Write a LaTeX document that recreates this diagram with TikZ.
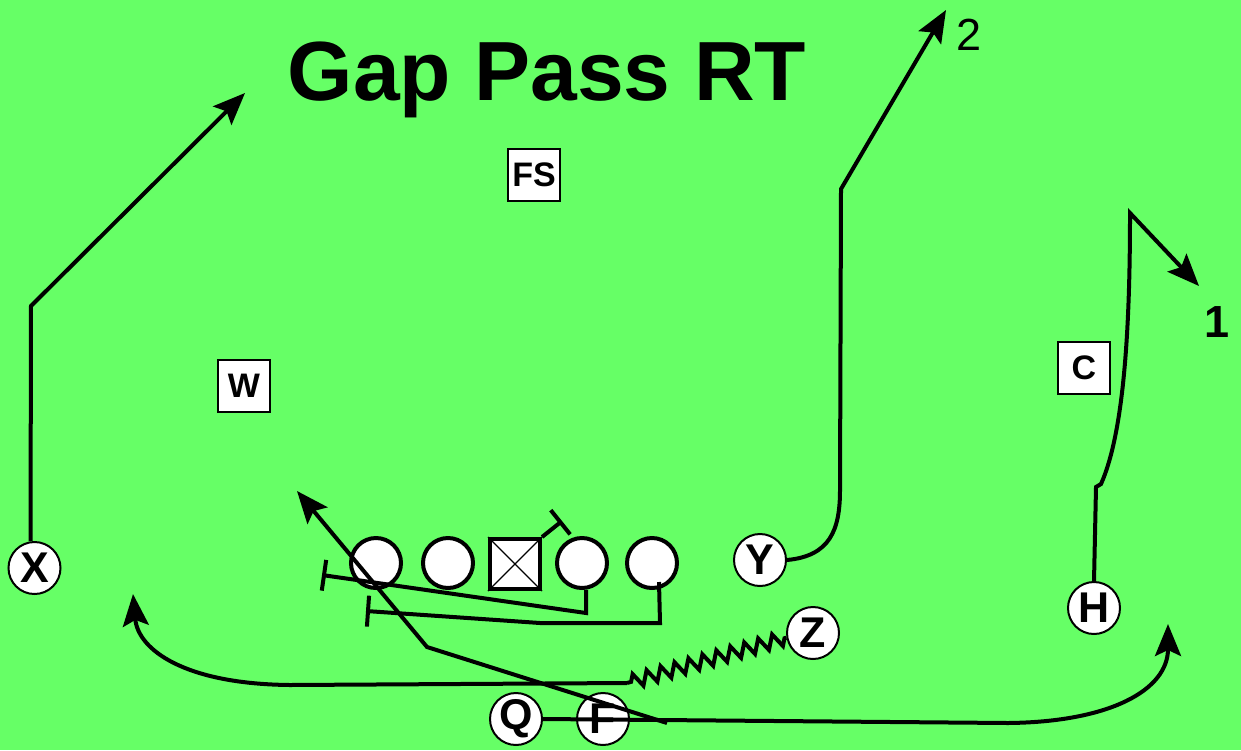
\documentclass[tikz,border=0pt]{standalone}
\usepackage{fontspec}
\setmainfont{Liberation Sans}
\usetikzlibrary{arrows.meta,decorations.pathmorphing}
\definecolor{field}{RGB}{102,255,102}
\begin{document}
\begin{tikzpicture}[x=1pt,y=-1pt,
 player/.style={circle,draw,fill=white,line width=2pt,minimum size=52pt,inner sep=0pt,font=\fontsize{43}{43}\selectfont\bfseries},
 lineman/.style={circle,draw,fill=white,line width=4pt,minimum size=50pt,inner sep=0pt},
 center/.style={rectangle,draw,fill=white,line width=4pt,minimum size=50pt,inner sep=0pt},
 defender/.style={rectangle,draw,fill=white,line width=2pt,minimum size=52pt,inner sep=0pt,font=\fontsize{34}{34}\selectfont\bfseries},
 route/.style={line width=4pt,line join=miter},
 tip/.style={-{Stealth[length=32pt,width=26pt,inset=6pt]}},
 block/.style={line width=4pt,-{Bar[width=31pt]}},
]
\path[fill=field] (0,0) rectangle (1241,750);
\useasboundingbox (0,0) rectangle (1241,750);

% title and labels
\node[anchor=base,font=\fontsize{84}{84}\selectfont\bfseries] (title) at (547,100) {Gap Pass RT};
\node[font=\fontsize{45}{45}\selectfont] (two) at (969,35) {2};
\node[font=\fontsize{45}{45}\selectfont\bfseries] (one) at (1217,322) {1};

% defenders
\node[defender] (FS) at (534,175) {FS};
\node[defender] (W) at (244,386) {W};
\node[defender] (C) at (1084,368) {C};

% offense
\node[lineman] (l1) at (376,563) {};
\node[lineman] (l2) at (448,563) {};
\node[center] (l3) at (515,564) {};
\draw[line width=1.2pt] (l3.north west) -- (l3.south east) (l3.north east) -- (l3.south west);
\node[lineman] (l4) at (582,563) {};
\node[lineman] (l5) at (652,563) {};

\node[player] (X) at (34.5,568) {X};
\node[player] (Y) at (760,560) {Y};
\node[player] (Z) at (813,633) {Z};
\node[player] (H) at (1094,608) {H};
\node[player] (Q) at (516,719) {Q};
\node[player] (F) at (603,719) {F};

% route coordinates
\coordinate (xc) at (31,306);
\coordinate (xe) at (245,93);
\coordinate (yc1) at (840,490);
\coordinate (yc2) at (841,189);
\coordinate (ye) at (946,10);
\coordinate (hc1) at (1096,487);
\coordinate (hc2) at (1101,484);
\coordinate (hc3) at (1130,213);
\coordinate (he) at (1199,286);
\coordinate (zz) at (627,683);
\coordinate (zc) at (290,685);
\coordinate (ze) at (133,594);
\coordinate (fs) at (667,723);
\coordinate (fc) at (427,647);
\coordinate (fe) at (297,491);
\coordinate (qc) at (1008,723);
\coordinate (qe) at (1168,624);
\coordinate (b4a) at (586,613);
\coordinate (b4e) at (322,575);
\coordinate (b5a) at (660,623);
\coordinate (b5b) at (540,623);
\coordinate (b5e) at (366,611);
\coordinate (b3e) at (562,521);

% routes
\draw[route,tip] ([xshift=-4pt]X.north) -- (xc) -- (xe);
\draw[route,tip] (Y.east) .. controls (830,556) and (840,530) .. (yc1) -- (yc2) -- (ye);
\draw[route,tip] (H.north) -- (hc1) -- (hc2) .. controls (1125,430) and (1130,320) .. (hc3) -- (he);
\draw[route,decorate,decoration={zigzag,segment length=14.5pt,amplitude=7pt,pre length=2pt,post length=3pt}] (Z.190) -- (zz);
\draw[route,tip] (zz) -- (zc) .. controls (185,684) and (138,650) .. (ze);
\draw[route,tip] (fs) -- (fc) -- (fe);
\draw[route,tip] (Q.east) -- (qc) .. controls (1110,722) and (1168,690) .. (qe);

% blocks
\draw[block] ([xshift=4pt]l4.south) -- (b4a) -- (b4e);
\draw[block] ([shift={(7,19)}]l5.center) -- (b5a) -- (b5b) -- (b5e);
\draw[block] (l3.north east) -- (b3e);
\end{tikzpicture}
\end{document}
